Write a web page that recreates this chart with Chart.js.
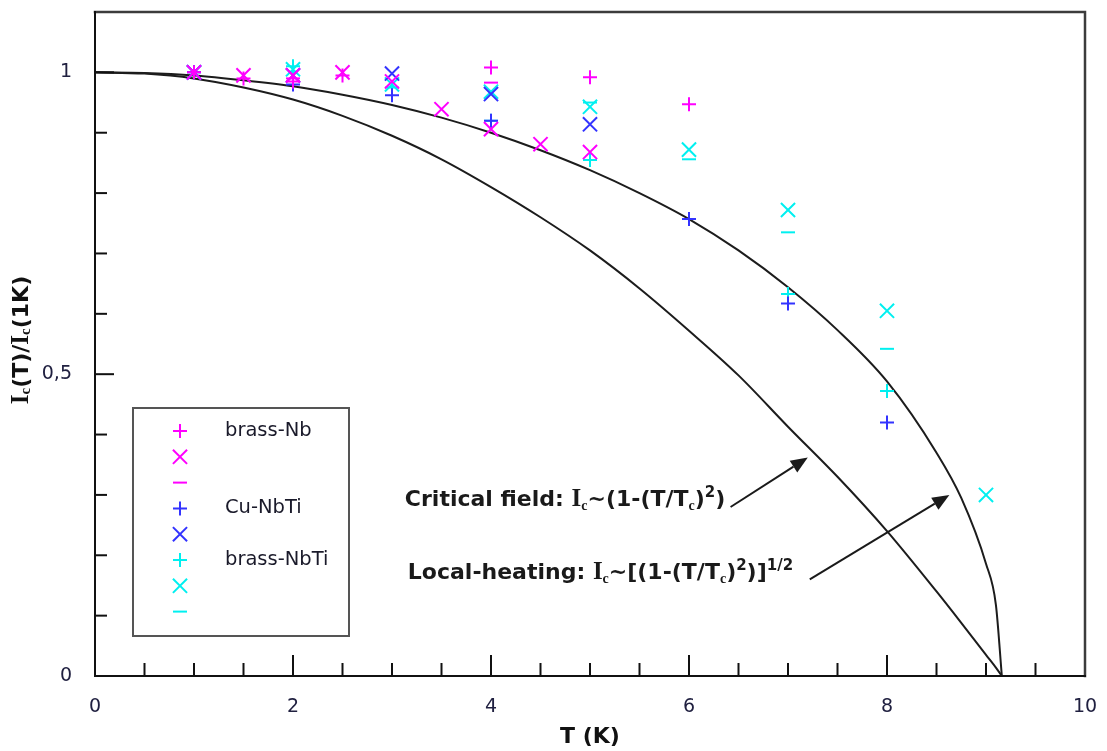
<!DOCTYPE html>
<html>
<head>
<meta charset="utf-8">
<script src="https://cdn.jsdelivr.net/npm/chart.js@4.4.1/dist/chart.umd.min.js"></script>
<style>
  html, body { margin: 0; padding: 0; background: #fff; }
  #wrap { width: 1107px; height: 751px; }
</style>
</head>
<body>
<div id="wrap"><canvas id="ic"></canvas></div>
<script>
// axis ticks
const xTickValues = [0, 2, 4, 6, 8, 10]
const yTickValues = [0, 0.5, 1]

// brass-Nb
const brassNbPlusT = [1, 1.5, 2, 2.5, 4, 5, 6]
const brassNbPlus = [1.0, 0.99, 0.985, 0.995, 1.008, 0.992, 0.947]
const brassNbCrossT = [1, 1.5, 2, 2.5, 3, 3.5, 4, 4.5, 5]
const brassNbCross = [1.0, 0.995, 0.995, 1.0, 0.985, 0.939, 0.906, 0.881, 0.868]
const brassNbDashT = [2, 4]
const brassNbDash = [0.99, 0.983]

// Cu-NbTi
const cuNbTiPlusT = [1, 2, 3, 4, 6, 7, 8]
const cuNbTiPlus = [1.0, 0.98, 0.962, 0.92, 0.757, 0.617, 0.42]
const cuNbTiCrossT = [1, 2, 3, 4, 5]
const cuNbTiCross = [1.0, 0.995, 0.998, 0.964, 0.914]

// brass-NbTi
const brassNbTiPlusT = [1, 2, 3, 4, 5, 6, 7, 8]
const brassNbTiPlus = [1.0, 1.01, 0.975, 0.92, 0.855, 0.757, 0.633, 0.472]
const brassNbTiCrossT = [1, 2, 3, 4, 5, 6, 7, 8, 9]
const brassNbTiCross = [1.0, 1.005, 0.98, 0.968, 0.943, 0.872, 0.772, 0.605, 0.30]
const brassNbTiDashT = [5, 6, 7, 8]
const brassNbTiDash = [0.95, 0.856, 0.735, 0.542]

// model curves
const curveT = [0, 0.5, 1, 1.5, 2, 2.5, 3, 3.5, 4, 4.5, 5, 5.5, 6, 6.5, 7, 7.5, 8, 8.5, 8.75, 9, 9.1, 9.16]
const criticalField = [1.0, 0.998, 0.99, 0.975, 0.955, 0.928, 0.895, 0.856, 0.81, 0.76, 0.705, 0.642, 0.572, 0.498, 0.413, 0.33, 0.24, 0.14, 0.088, 0.035, 0.014, 0]
const localHeating = [1.0, 0.999, 0.995, 0.987, 0.977, 0.963, 0.946, 0.925, 0.9, 0.871, 0.838, 0.8, 0.757, 0.705, 0.644, 0.573, 0.488, 0.37, 0.295, 0.186, 0.118, 0]

const MAGENTA = '#ff00ff'
const BLUE = '#3333ff'
const CYAN = '#00f0f0'
const SANS = '"DejaVu Sans", Verdana, sans-serif'
const SERIF = '"Liberation Serif", "DejaVu Serif", serif'

const zip = (xs, ys) => xs.map((x, i) => ({ x: x, y: ys[i] }))

const marker = (label, xs, ys, color, style) => ({
  label: label,
  data: zip(xs, ys),
  pointStyle: style,
  pointRadius: style === 'crossRot' ? 10 : 7,
  pointBorderWidth: 2,
  borderColor: color,
  backgroundColor: color,
  showLine: false,
  order: 0
})

const curve = (label, ys) => ({
  label: label,
  data: zip(curveT, ys),
  showLine: true,
  pointRadius: 0,
  borderColor: '#1c1c1c',
  borderWidth: 2,
  cubicInterpolationMode: 'monotone',
  order: 10
})

const datasets = [
  marker('brass-Nb', brassNbPlusT, brassNbPlus, MAGENTA, 'cross'),
  marker('brass-Nb', brassNbCrossT, brassNbCross, MAGENTA, 'crossRot'),
  marker('brass-Nb', brassNbDashT, brassNbDash, MAGENTA, 'line'),
  marker('Cu-NbTi', cuNbTiPlusT, cuNbTiPlus, BLUE, 'cross'),
  marker('Cu-NbTi', cuNbTiCrossT, cuNbTiCross, BLUE, 'crossRot'),
  marker('brass-NbTi', brassNbTiPlusT, brassNbTiPlus, CYAN, 'cross'),
  marker('brass-NbTi', brassNbTiCrossT, brassNbTiCross, CYAN, 'crossRot'),
  marker('brass-NbTi', brassNbTiDashT, brassNbTiDash, CYAN, 'line'),
  curve('critical field', criticalField),
  curve('local heating', localHeating)
]

// text + arrow annotations, anchored in data units
const B = 'bold 22px ' + SANS
const BI = 'bold 25px ' + SERIF
const SUB = 'bold 14px ' + SERIF
const SUP = 'bold 15px ' + SANS
const notes = [
  {
    at: [3.13, 0.282],
    parts: [['Critical field: ', B], ['I', BI], ['c', SUB, 4], ['~(1-(T/T', B], ['c', SUB, 4], [')', B], ['2', SUP, -9], [')', B]],
    from: [6.42, 0.28], to: [7.2, 0.362]
  },
  {
    at: [3.16, 0.16],
    parts: [['Local-heating: ', B], ['I', BI], ['c', SUB, 4], ['~[(1-(T/T', B], ['c', SUB, 4], [')', B], ['2', SUP, -9], [')]', B], ['1/2', SUP, -9]],
    from: [7.22, 0.16], to: [8.63, 0.30]
  }
]

function richText (ctx, x, y, parts, align) {
  let w = 0
  parts.forEach(p => { ctx.font = p[1]; w += ctx.measureText(p[0]).width })
  let cx = align === 'center' ? x - w / 2 : x
  parts.forEach(p => {
    ctx.font = p[1]
    ctx.fillText(p[0], cx, y + (p[2] || 0))
    cx += ctx.measureText(p[0]).width
  })
}

function arrow (ctx, x0, y0, x1, y1) {
  const a = Math.atan2(y1 - y0, x1 - x0)
  const len = 17
  const hw = 7
  const bx = x1 - Math.cos(a) * len
  const by = y1 - Math.sin(a) * len
  ctx.beginPath()
  ctx.moveTo(x0, y0)
  ctx.lineTo(bx, by)
  ctx.stroke()
  ctx.beginPath()
  ctx.moveTo(x1, y1)
  ctx.lineTo(bx - Math.sin(a) * hw, by + Math.cos(a) * hw)
  ctx.lineTo(bx + Math.sin(a) * hw, by - Math.cos(a) * hw)
  ctx.closePath()
  ctx.fill()
}

const decorations = {
  id: 'decorations',
  afterDraw (chart) {
    const ctx = chart.ctx
    const ca = chart.chartArea
    const xs = chart.scales.x
    const ys = chart.scales.y
    ctx.save()

    // frame: axes in black, top/right edges in grey
    ctx.lineCap = 'square'
    ctx.strokeStyle = '#3c3c3c'
    ctx.lineWidth = 2.5
    ctx.beginPath()
    ctx.moveTo(ca.left, ca.top)
    ctx.lineTo(ca.right, ca.top)
    ctx.lineTo(ca.right, ca.bottom)
    ctx.stroke()
    ctx.strokeStyle = '#111'
    ctx.lineWidth = 2
    ctx.beginPath()
    ctx.moveTo(ca.left, ca.top)
    ctx.lineTo(ca.left, ca.bottom)
    ctx.lineTo(ca.right, ca.bottom)
    ctx.stroke()

    // inward tick marks
    ctx.lineCap = 'butt'
    for (let i = 1; i < 20; i++) {
      const t = i * 0.5
      const px = xs.getPixelForValue(t)
      const l = t % 2 === 0 ? 21 : 13
      ctx.beginPath()
      ctx.moveTo(px, ca.bottom)
      ctx.lineTo(px, ca.bottom - l)
      ctx.stroke()
    }
    for (let i = 1; i <= 10; i++) {
      const py = ys.getPixelForValue(i / 10)
      const l = i % 5 === 0 ? 19 : 12
      ctx.beginPath()
      ctx.moveTo(ca.left, py)
      ctx.lineTo(ca.left + l, py)
      ctx.stroke()
    }

    // legend box
    const lx = 133
    const ly = 408
    ctx.strokeStyle = '#555'
    ctx.lineWidth = 2
    ctx.strokeRect(lx, ly, 216, 228)
    ctx.textBaseline = 'middle'
    ctx.textAlign = 'left'
    ctx.fillStyle = '#1a1a2a'
    ctx.font = '19.5px ' + SANS
    let prev = null
    let row = 0
    chart.data.datasets.forEach(ds => {
      if (ds.showLine) return
      const y = ly + 23 + row * 25.8
      ctx.strokeStyle = ds.borderColor
      ctx.lineWidth = 2
      Chart.helpers.drawPoint(ctx, { pointStyle: ds.pointStyle, radius: ds.pointRadius, rotation: 0, borderWidth: 2 }, lx + 47, y)
      if (ds.label !== prev) ctx.fillText(ds.label, lx + 92, y)
      prev = ds.label
      row++
    })

    // annotations
    ctx.fillStyle = '#1a1a1a'
    ctx.strokeStyle = '#1a1a1a'
    ctx.lineWidth = 2
    ctx.textBaseline = 'alphabetic'
    notes.forEach(n => {
      richText(ctx, xs.getPixelForValue(n.at[0]), ys.getPixelForValue(n.at[1]), n.parts)
      arrow(ctx, xs.getPixelForValue(n.from[0]), ys.getPixelForValue(n.from[1]),
        xs.getPixelForValue(n.to[0]), ys.getPixelForValue(n.to[1]))
    })

    // axis titles
    ctx.fillStyle = '#111'
    ctx.textBaseline = 'middle'
    richText(ctx, (ca.left + ca.right) / 2, 737, [['T (K)', 'bold 22px ' + SANS]], 'center')
    ctx.translate(22, 340)
    ctx.rotate(-Math.PI / 2)
    richText(ctx, 0, 0, [['I', 'bold 25px ' + SERIF], ['c', 'bold 15px ' + SERIF, 4], ['(T)/', 'bold 22px ' + SANS],
      ['I', 'bold 25px ' + SERIF], ['c', 'bold 15px ' + SERIF, 4], ['(1K)', 'bold 22px ' + SANS]], 'center')
    ctx.restore()
  }
}

new Chart(document.getElementById('ic'), {
  type: 'scatter',
  data: { datasets: datasets },
  options: {
    responsive: true,
    maintainAspectRatio: false,
    animation: false,
    layout: { padding: { top: 7, right: 22, left: 0, bottom: 0 } },
    plugins: { legend: { display: false }, tooltip: { enabled: false } },
    scales: {
      x: {
        type: 'linear',
        min: 0,
        max: 10,
        grid: { display: false },
        border: { display: false },
        afterBuildTicks: s => { s.ticks = xTickValues.map(v => ({ value: v })) },
        afterFit: s => { s.height = 75; s.paddingLeft = 0; s.paddingRight = 0 },
        ticks: { color: '#202040', padding: 12, font: { family: SANS, size: 19 }, maxRotation: 0 }
      },
      y: {
        type: 'linear',
        min: 0,
        max: 1.1,
        grid: { display: false },
        border: { display: false },
        afterBuildTicks: s => { s.ticks = yTickValues.map(v => ({ value: v })) },
        afterFit: s => { s.width = 95; s.paddingTop = 0; s.paddingBottom = 0 },
        ticks: {
          color: '#202040',
          padding: 15,
          font: { family: SANS, size: 19 },
          callback: v => String(v).replace('.', ',')
        }
      }
    }
  },
  plugins: [decorations]
})
</script>
</body>
</html>
